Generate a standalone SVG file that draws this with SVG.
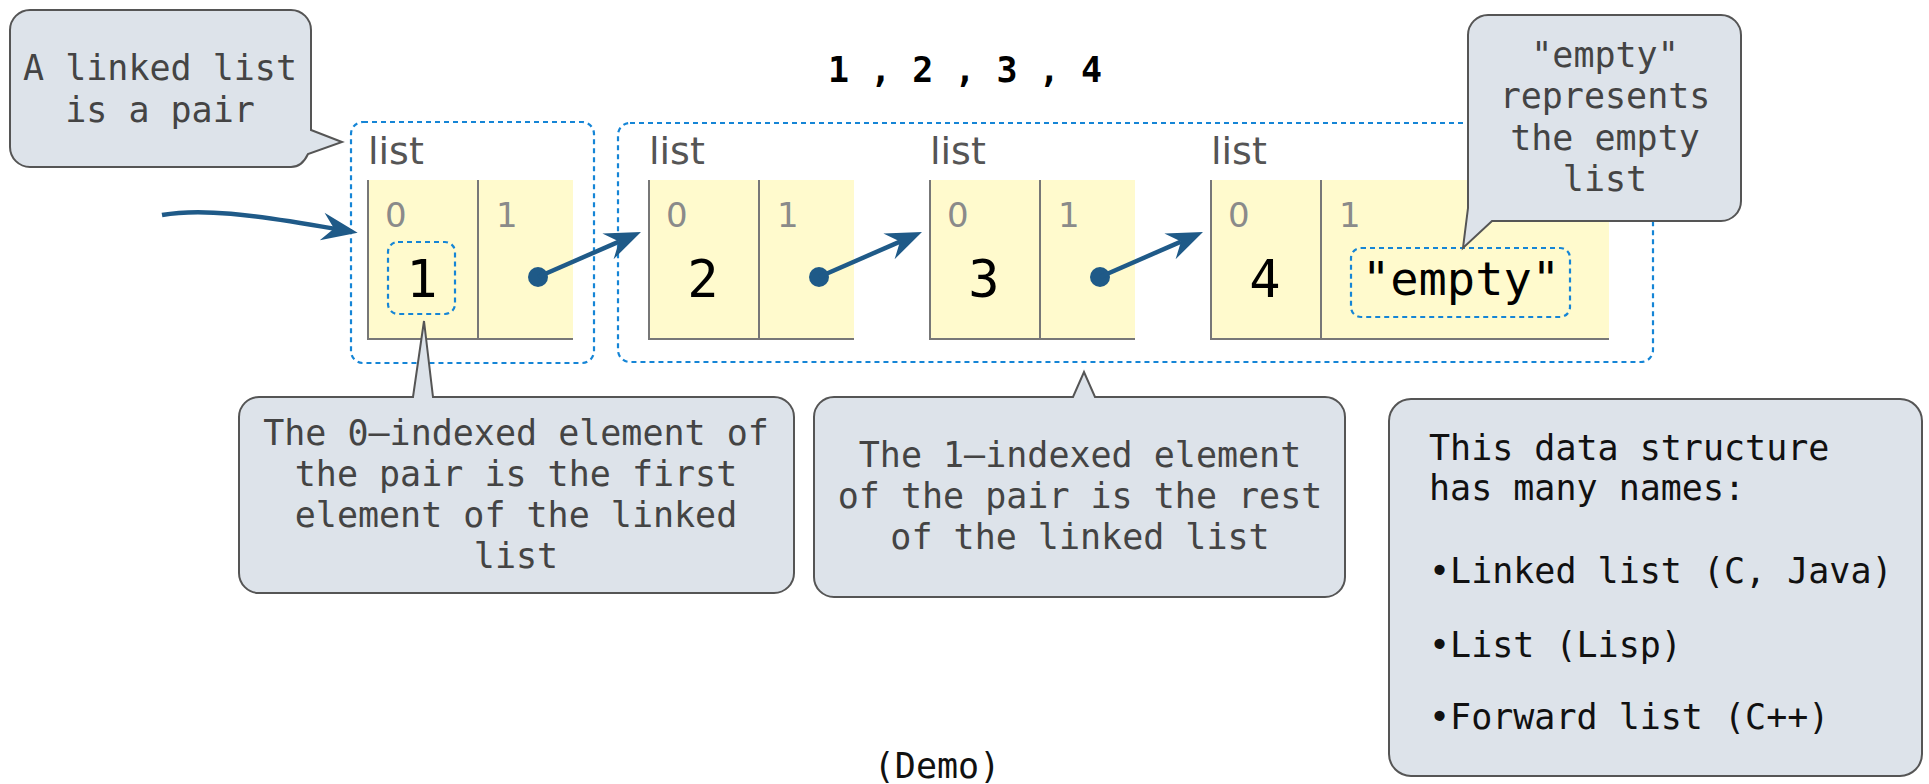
<svg xmlns="http://www.w3.org/2000/svg" width="1929" height="784" viewBox="0 0 1929 784">
<style>
.frame{fill:none;stroke:#1585d6;stroke-width:2.2;stroke-dasharray:5,4}
.cell{fill:#fffacd}
.border{fill:none;stroke:#777;stroke-width:2}
.lbl{font-family:"DejaVu Sans",Verdana,sans-serif;font-size:38px;fill:#555}
.idx{font-family:"DejaVu Sans",Verdana,sans-serif;font-size:34px;fill:#8a8a8a}
.val{font-family:"DejaVu Sans Mono",monospace;font-size:52px;fill:#000;text-anchor:middle}
.str{font-family:"DejaVu Sans Mono",monospace;font-size:47px;fill:#000;text-anchor:middle}
.dot{fill:#1f5a88}
.arrow{fill:none;stroke:#1f5a88;stroke-width:4.5}
.callout{fill:#dde3ea;stroke:#555;stroke-width:2}
.ct{font-family:"DejaVu Sans Mono",monospace;font-size:35px;fill:#444;text-anchor:middle}
.bt{font-family:"DejaVu Sans Mono",monospace;font-size:35px;fill:#111}
</style>
<defs>
<marker id="ah" markerUnits="userSpaceOnUse" markerWidth="60" markerHeight="60" refX="0" refY="0" orient="auto" overflow="visible">
<path d="M24,0 L-12,-14 L0,0 L-12,14 Z" fill="#1f5a88"/>
</marker>
</defs>

<text x="965" y="82" text-anchor="middle" font-family="DejaVu Sans Mono, monospace" font-size="35" font-weight="bold" fill="#000">1 , 2 , 3 , 4</text>

<g id="frame1"><rect class="frame" x="351" y="122" width="243" height="241" rx="12"/></g>
<g id="frame2"><rect class="frame" x="618" y="123" width="1035" height="239" rx="12"/></g>

<g id="pair1">
<text class="lbl" x="368" y="164">list</text>
<rect class="cell" x="368" y="180" width="205" height="159"/>
<path class="border" d="M368,180 V339 H573 M478,180 V339"/>
<text class="idx" x="385" y="227">0</text>
<text class="idx" x="496" y="227">1</text>
<rect class="frame" x="388" y="242" width="67" height="72" rx="10"/>
<text class="val" x="422" y="297">1</text>
<circle class="dot" cx="538" cy="277" r="10"/>
</g>

<g id="pair2">
<text class="lbl" x="649" y="164">list</text>
<rect class="cell" x="649" y="180" width="205" height="159"/>
<path class="border" d="M649,180 V339 H854 M759,180 V339"/>
<text class="idx" x="666" y="227">0</text>
<text class="idx" x="777" y="227">1</text>
<text class="val" x="703" y="297">2</text>
<circle class="dot" cx="819" cy="277" r="10"/>
</g>

<g id="pair3">
<text class="lbl" x="930" y="164">list</text>
<rect class="cell" x="930" y="180" width="205" height="159"/>
<path class="border" d="M930,180 V339 H1135 M1040,180 V339"/>
<text class="idx" x="947" y="227">0</text>
<text class="idx" x="1058" y="227">1</text>
<text class="val" x="984" y="297">3</text>
<circle class="dot" cx="1100" cy="277" r="10"/>
</g>

<g id="pair4">
<text class="lbl" x="1211" y="164">list</text>
<rect class="cell" x="1211" y="180" width="398" height="159"/>
<path class="border" d="M1211,180 V339 H1609 M1321,180 V339"/>
<text class="idx" x="1228" y="227">0</text>
<text class="idx" x="1339" y="227">1</text>
<text class="val" x="1265" y="297">4</text>
<rect class="frame" x="1351" y="248" width="219" height="69" rx="10"/>
<text class="str" x="1461" y="295">"empty"</text>
</g>

<g id="connectors">
<path class="arrow" d="M162,215 C200,208 250,214 334,228.6" marker-end="url(#ah)"/>
<path class="arrow" d="M538,277 L619,241.6" marker-end="url(#ah)"/>
<path class="arrow" d="M819,277 L900,241.6" marker-end="url(#ah)"/>
<path class="arrow" d="M1100,277 L1181,241.6" marker-end="url(#ah)"/>
</g>

<g id="callout-pair">
<path class="callout" d="M30,10 H291 A20,20 0 0 1 311,30 V130 L342,142 L308,154 Q302,167 291,167 H30 A20,20 0 0 1 10,147 V30 A20,20 0 0 1 30,10 Z"/>
<text class="ct" x="160" y="80">A linked list</text>
<text class="ct" x="160" y="122">is a pair</text>
</g>

<g id="callout-empty">
<path class="callout" d="M1488,15 H1721 A20,20 0 0 1 1741,35 V201 A20,20 0 0 1 1721,221 H1492 L1463,248 L1468,208 V35 A20,20 0 0 1 1488,15 Z"/>
<text class="ct" x="1605" y="67">"empty"</text>
<text class="ct" x="1605" y="108">represents</text>
<text class="ct" x="1605" y="150">the empty</text>
<text class="ct" x="1605" y="191">list</text>
</g>

<g id="callout-first">
<path class="callout" d="M259,397 H413 L424,321 L433,397 H774 A20,20 0 0 1 794,417 V573 A20,20 0 0 1 774,593 H259 A20,20 0 0 1 239,573 V417 A20,20 0 0 1 259,397 Z"/>
<text class="ct" x="516" y="445">The 0–indexed element of</text>
<text class="ct" x="516" y="486">the pair is the first</text>
<text class="ct" x="516" y="527">element of the linked</text>
<text class="ct" x="516" y="568">list</text>
</g>

<g id="callout-rest">
<path class="callout" d="M834,397 H1073 L1084,372 L1095,397 H1325 A20,20 0 0 1 1345,417 V577 A20,20 0 0 1 1325,597 H834 A20,20 0 0 1 814,577 V417 A20,20 0 0 1 834,397 Z"/>
<text class="ct" x="1080" y="467">The 1–indexed element</text>
<text class="ct" x="1080" y="508">of the pair is the rest</text>
<text class="ct" x="1080" y="549">of the linked list</text>
</g>

<g id="names">
<rect class="callout" x="1389" y="399" width="533" height="377" rx="22"/>
<text class="bt" x="1429" y="460">This data structure</text>
<text class="bt" x="1429" y="500">has many names:</text>
<text class="bt" x="1429" y="583">•Linked list (C, Java)</text>
<text class="bt" x="1429" y="657">•List (Lisp)</text>
<text class="bt" x="1429" y="729">•Forward list (C++)</text>
</g>

<text x="937" y="778" text-anchor="middle" font-family="DejaVu Sans Mono, monospace" font-size="35" fill="#111">(Demo)</text>
</svg>
